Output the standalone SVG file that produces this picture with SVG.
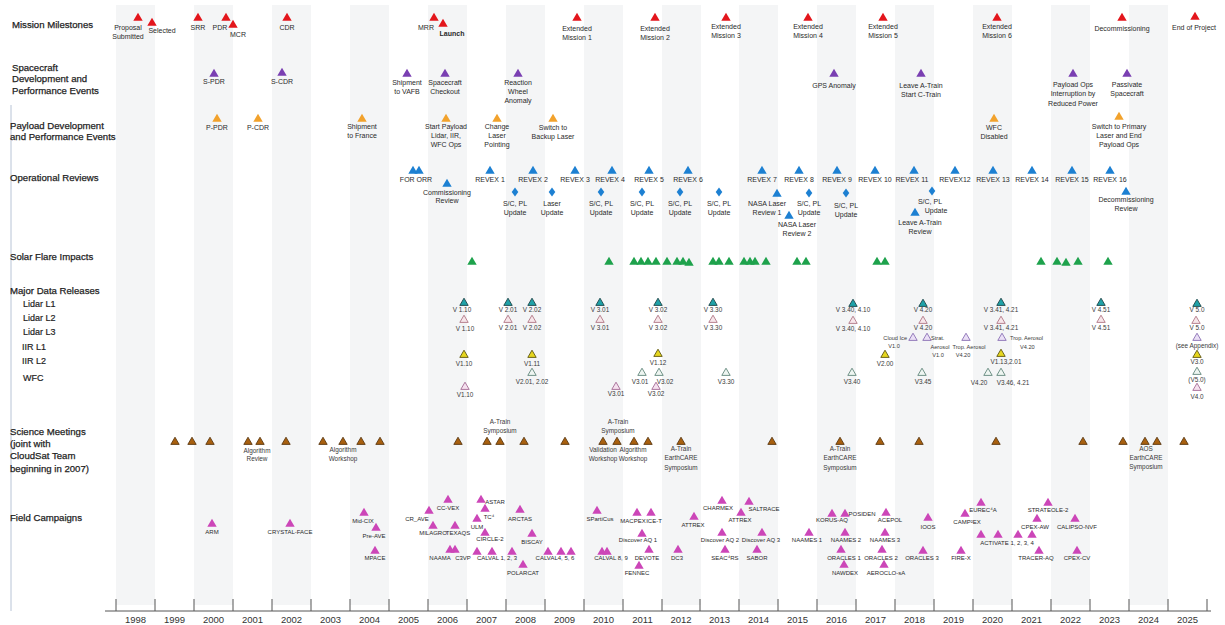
<svg xmlns="http://www.w3.org/2000/svg" width="1225" height="625" viewBox="0 0 1225 625">
<style>
text{font-family:"Liberation Sans",Arial,sans-serif}
.h{font-size:9.6px;fill:#1e1e1e;stroke:#1e1e1e;stroke-width:0.25}
.s{font-size:9px;fill:#1e1e1e;stroke:#1e1e1e;stroke-width:0.2}
.t{font-size:7px;fill:#2a2a2a;text-anchor:middle}
.tl{font-size:7px;fill:#2a2a2a}
.v{font-size:6.4px;fill:#3a3a3a;text-anchor:middle}
.vl{font-size:6.4px;fill:#3a3a3a}
.vr{font-size:6.4px;fill:#3a3a3a;text-anchor:end}
.sv{font-size:5.6px}
.f{font-size:6px;fill:#2a2a2a;text-anchor:middle}
.yr{font-size:9.5px;fill:#333;text-anchor:middle}
.band{fill:#f4f5f6}
.ms{fill:#e3161c}
.sc{fill:#7a3fb2}
.pl{fill:#f2a22c}
.op{fill:#1d80d2}
.sf{fill:#1ea24c}
.l1{fill:#1fa2a8;stroke:#1c4548;stroke-width:0.9}
.l2{fill:#f7e6ea;stroke:#b07684;stroke-width:0.9}
.l3{fill:#eadff6;stroke:#8a6fb4;stroke-width:0.9}
.ir{fill:#e6d61e;stroke:#5e5610;stroke-width:0.9}
.wf{fill:#eef5f1;stroke:#62877c;stroke-width:0.9}
.w2{fill:#f5e1ef;stroke:#a46a94;stroke-width:0.9}
.sm{fill:#a8600f;stroke:#4e2c06;stroke-width:0.8}
.fc{fill:#cc46b8}
.ax{stroke:#555;stroke-width:1;fill:none}
</style>
<defs>
<path id="T" d="M0,-4.3L4.7,3.8H-4.7Z"/>
<path id="t" d="M0,-3.8L4.2,3.4H-4.2Z"/>
<path id="D" d="M0,-4.6L3.3,0L0,4.6L-3.3,0Z"/>
</defs>
<rect width="1225" height="625" fill="#fff"/>
<g id="bands">
<rect class="band" x="116" y="5" width="39" height="600"/>
<rect class="band" x="194" y="5" width="39" height="600"/>
<rect class="band" x="272" y="5" width="39" height="600"/>
<rect class="band" x="350" y="5" width="39" height="600"/>
<rect class="band" x="428" y="5" width="39" height="600"/>
<rect class="band" x="506" y="5" width="39" height="600"/>
<rect class="band" x="584" y="5" width="39" height="600"/>
<rect class="band" x="662" y="5" width="39" height="600"/>
<rect class="band" x="739" y="5" width="39" height="600"/>
<rect class="band" x="817" y="5" width="39" height="600"/>
<rect class="band" x="895" y="5" width="39" height="600"/>
<rect class="band" x="973" y="5" width="39" height="600"/>
<rect class="band" x="1051" y="5" width="39" height="600"/>
<rect class="band" x="1129" y="5" width="39" height="600"/>
</g>
<line x1="11" y1="105" x2="11" y2="611" stroke="#b8c4d6" stroke-width="1"/>
<g id="row-labels">
<text class="h" x="12" y="28">Mission Milestones</text>
<text class="h" x="12" y="70.5">Spacecraft</text>
<text class="h" x="12" y="82">Development and</text>
<text class="h" x="12" y="93.5">Performance Events</text>
<text class="h" x="10" y="128.5">Payload Development</text>
<text class="h" x="10" y="140">and Performance Events</text>
<text class="h" x="10" y="180.5">Operational Reviews</text>
<text class="h" x="10" y="259.5">Solar Flare Impacts</text>
<text class="h" x="10" y="293.5">Major Data Releases</text>
<text class="s" x="23" y="307">Lidar L1</text>
<text class="s" x="23" y="320.5">Lidar L2</text>
<text class="s" x="23" y="335">Lidar L3</text>
<text class="s" x="22" y="349.5">IIR L1</text>
<text class="s" x="22" y="363.5">IIR L2</text>
<text class="s" x="23" y="380.5">WFC</text>
<text class="h" x="10" y="434.5">Science Meetings</text>
<text class="h" x="10" y="446.5">(joint with</text>
<text class="h" x="10" y="459">CloudSat Team</text>
<text class="h" x="10" y="471.5">beginning in 2007)</text>
<text class="h" x="10" y="520.5">Field Campaigns</text>
</g>
<g id="mission-milestones">
<use href="#T" class="ms" x="138" y="17"/><text class="t" x="128" y="29.5">Proposal</text><text class="t" x="128" y="38.5">Submitted</text>
<use href="#T" class="ms" x="152" y="22"/><text class="t" x="162" y="32.5">Selected</text>
<use href="#T" class="ms" x="198" y="17"/><text class="t" x="198" y="29.5">SRR</text>
<use href="#T" class="ms" x="226" y="17"/><text class="t" x="220" y="29.5">PDR</text>
<use href="#T" class="ms" x="233" y="24"/><text class="t" x="238" y="36.5">MCR</text>
<use href="#T" class="ms" x="287" y="17"/><text class="t" x="287" y="29.5">CDR</text>
<use href="#T" class="ms" x="434" y="17"/><text class="t" x="426" y="29.5">MRR</text>
<use href="#T" class="ms" x="443" y="23"/><text class="t" x="452" y="35.5" font-weight="bold" fill="#111">Launch</text>
<use href="#T" class="ms" x="577" y="17"/><text class="t" x="577" y="30.5">Extended</text><text class="t" x="577" y="39.5">Mission 1</text>
<use href="#T" class="ms" x="655" y="17"/><text class="t" x="655" y="30.5">Extended</text><text class="t" x="655" y="39.5">Mission 2</text>
<use href="#T" class="ms" x="726" y="17"/><text class="t" x="726" y="28.5">Extended</text><text class="t" x="726" y="37.5">Mission 3</text>
<use href="#T" class="ms" x="808" y="17"/><text class="t" x="808" y="28.5">Extended</text><text class="t" x="808" y="37.5">Mission 4</text>
<use href="#T" class="ms" x="883" y="17"/><text class="t" x="883" y="28.5">Extended</text><text class="t" x="883" y="37.5">Mission 5</text>
<use href="#T" class="ms" x="997" y="17"/><text class="t" x="997" y="28.5">Extended</text><text class="t" x="997" y="37.5">Mission 6</text>
<use href="#T" class="ms" x="1122" y="17"/><text class="t" x="1122" y="30.5">Decommissioning</text>
<use href="#T" class="ms" x="1195" y="16"/><text class="t" x="1194" y="29.5">End of Project</text>
</g>
<g id="spacecraft-events">
<use href="#T" class="sc" x="214" y="73"/><text class="t" x="214" y="83.5">S-PDR</text>
<use href="#T" class="sc" x="282" y="72"/><text class="t" x="282" y="83.5">S-CDR</text>
<use href="#T" class="sc" x="407" y="73"/><text class="t" x="407" y="84.5">Shipment</text><text class="t" x="407" y="93.5">to VAFB</text>
<use href="#T" class="sc" x="445" y="73"/><text class="t" x="445" y="84.5">Spacecraft</text><text class="t" x="445" y="93.5">Checkout</text>
<use href="#T" class="sc" x="518" y="73"/><text class="t" x="518" y="84.5">Reaction</text><text class="t" x="518" y="93.5">Wheel</text><text class="t" x="518" y="103">Anomaly</text>
<use href="#T" class="sc" x="834" y="73"/><text class="t" x="834" y="87.5">GPS Anomaly</text>
<use href="#T" class="sc" x="921" y="73"/><text class="t" x="921" y="87.5">Leave A-Train</text><text class="t" x="921" y="96.5">Start C-Train</text>
<use href="#T" class="sc" x="1073" y="73"/><text class="t" x="1073" y="86.5">Payload Ops</text><text class="t" x="1073" y="96">Interruption by</text><text class="t" x="1073" y="105.5">Reduced Power</text>
<use href="#T" class="sc" x="1127" y="73"/><text class="t" x="1127" y="86.5">Passivate</text><text class="t" x="1127" y="95.5">Spacecraft</text>
</g>
<g id="payload-events">
<use href="#T" class="pl" x="217" y="118"/><text class="t" x="217" y="129.5">P-PDR</text>
<use href="#T" class="pl" x="258" y="118"/><text class="t" x="258" y="129.5">P-CDR</text>
<use href="#T" class="pl" x="362" y="118"/><text class="t" x="362" y="128.5">Shipment</text><text class="t" x="362" y="137.5">to France</text>
<use href="#T" class="pl" x="446" y="118"/><text class="t" x="446" y="128.5">Start Payload</text><text class="t" x="446" y="137.5">Lidar, IIR,</text><text class="t" x="446" y="146.5">WFC Ops</text>
<use href="#T" class="pl" x="497" y="118"/><text class="t" x="497" y="128.5">Change</text><text class="t" x="497" y="137.5">Laser</text><text class="t" x="497" y="147">Pointing</text>
<use href="#T" class="pl" x="553" y="118"/><text class="t" x="553" y="129.5">Switch to</text><text class="t" x="553" y="139">Backup Laser</text>
<use href="#T" class="pl" x="994" y="118"/><text class="t" x="994" y="129.5">WFC</text><text class="t" x="994" y="139">Disabled</text>
<use href="#T" class="pl" x="1119" y="116"/><text class="t" x="1119" y="128.5">Switch to Primary</text><text class="t" x="1119" y="137.5">Laser and End</text><text class="t" x="1119" y="146.5">Payload Ops</text>
</g>
<g id="operational-reviews">
<use href="#T" class="op" x="413" y="170"/><use href="#T" class="op" x="419" y="170"/><text class="t" x="416" y="181.5">FOR ORR</text>
<use href="#T" class="op" x="447" y="183"/><text class="t" x="447" y="194.5">Commissioning</text><text class="t" x="447" y="203">Review</text>
<use href="#T" class="op" x="490" y="170"/><text class="t" x="490" y="181.5">REVEX 1</text>
<use href="#T" class="op" x="533" y="170"/><text class="t" x="533" y="181.5">REVEX 2</text>
<use href="#T" class="op" x="575" y="170"/><text class="t" x="575" y="181.5">REVEX 3</text>
<use href="#T" class="op" x="612" y="170"/><text class="t" x="610" y="181.5">REVEX 4</text>
<use href="#T" class="op" x="649" y="170"/><text class="t" x="649" y="181.5">REVEX 5</text>
<use href="#T" class="op" x="688" y="170"/><text class="t" x="688" y="181.5">REVEX 6</text>
<use href="#T" class="op" x="762" y="170"/><text class="t" x="762" y="181.5">REVEX 7</text>
<use href="#T" class="op" x="799" y="170"/><text class="t" x="799" y="181.5">REVEX 8</text>
<use href="#T" class="op" x="837" y="170"/><text class="t" x="837" y="181.5">REVEX 9</text>
<use href="#T" class="op" x="875" y="170"/><text class="t" x="875" y="181.5">REVEX 10</text>
<use href="#T" class="op" x="914" y="170"/><text class="t" x="912" y="181.5">REVEX 11</text>
<use href="#T" class="op" x="955" y="170"/><text class="t" x="955" y="181.5">REVEX12</text>
<use href="#T" class="op" x="993" y="170"/><text class="t" x="993" y="181.5">REVEX 13</text>
<use href="#T" class="op" x="1032" y="170"/><text class="t" x="1032" y="181.5">REVEX 14</text>
<use href="#T" class="op" x="1072" y="170"/><text class="t" x="1072" y="181.5">REVEX 15</text>
<use href="#T" class="op" x="1110" y="170"/><text class="t" x="1110" y="181.5">REVEX 16</text>
<use href="#D" class="op" x="515" y="192"/><text class="t" x="515" y="205.5">S/C, PL</text><text class="t" x="515" y="214.5">Update</text>
<use href="#D" class="op" x="552" y="192"/><text class="t" x="552" y="205.5">Laser</text><text class="t" x="552" y="214.5">Update</text>
<use href="#D" class="op" x="601" y="192"/><text class="t" x="601" y="205.5">S/C, PL</text><text class="t" x="601" y="214.5">Update</text>
<use href="#D" class="op" x="642" y="192"/><text class="t" x="642" y="205.5">S/C, PL</text><text class="t" x="642" y="214.5">Update</text>
<use href="#D" class="op" x="680" y="192"/><text class="t" x="680" y="205.5">S/C, PL</text><text class="t" x="680" y="214.5">Update</text>
<use href="#D" class="op" x="719" y="192"/><text class="t" x="719" y="205.5">S/C, PL</text><text class="t" x="719" y="214.5">Update</text>
<use href="#D" class="op" x="809" y="193"/><text class="t" x="809" y="205.5">S/C, PL</text><text class="t" x="809" y="215">Update</text>
<use href="#D" class="op" x="846" y="193"/><text class="t" x="846" y="207.5">S/C, PL</text><text class="t" x="846" y="217">Update</text>
<use href="#D" class="op" x="932" y="191"/><text class="t" x="930" y="203.5">S/C, PL</text><text class="t" x="936" y="212.5">Update</text>
<use href="#T" class="op" x="777" y="193"/><text class="t" x="767" y="205.5">NASA Laser</text><text class="t" x="767" y="214.5">Review 1</text>
<use href="#T" class="op" x="789" y="215"/><text class="t" x="797" y="226.5">NASA Laser</text><text class="t" x="797" y="235.5">Review 2</text>
<use href="#T" class="op" x="915" y="212"/><text class="t" x="920" y="224.5">Leave A-Train</text><text class="t" x="920" y="233.5">Review</text>
<use href="#T" class="op" x="1126" y="191"/><text class="t" x="1126" y="201.5">Decommissioning</text><text class="t" x="1126" y="210.5">Review</text>
</g>
<g id="solar-flares" class="sf">
<use href="#T" x="472" y="261"/><use href="#T" x="609" y="261"/><use href="#T" x="634" y="261"/><use href="#T" x="641" y="261"/><use href="#T" x="648" y="261"/><use href="#T" x="656" y="261"/><use href="#T" x="667" y="261"/><use href="#T" x="677" y="261"/><use href="#T" x="683" y="261"/><use href="#T" x="689" y="262"/><use href="#T" x="713" y="261"/><use href="#T" x="719" y="261"/><use href="#T" x="729" y="261"/><use href="#T" x="744" y="261"/><use href="#T" x="750" y="261"/><use href="#T" x="755" y="261"/><use href="#T" x="766" y="261"/><use href="#T" x="797" y="261"/><use href="#T" x="806" y="261"/><use href="#T" x="877" y="261"/><use href="#T" x="885" y="261"/><use href="#T" x="1041" y="261"/><use href="#T" x="1057" y="261"/><use href="#T" x="1066" y="262"/><use href="#T" x="1078" y="261"/><use href="#T" x="1108" y="261"/>
</g>
<g id="data-releases">
<g id="lidar-l1">
<use href="#t" class="l1" x="464" y="302"/><text class="v" x="462" y="311.5">V 1.10</text>
<use href="#t" class="l1" x="508" y="302"/><text class="v" x="508" y="311.5">V 2.01</text>
<use href="#t" class="l1" x="532" y="302"/><text class="v" x="532" y="311.5">V 2.02</text>
<use href="#t" class="l1" x="600" y="302"/><text class="v" x="600" y="311.5">V 3.01</text>
<use href="#t" class="l1" x="658" y="302"/><text class="v" x="658" y="311.5">V 3.02</text>
<use href="#t" class="l1" x="713" y="302"/><text class="v" x="713" y="311.5">V 3.30</text>
<use href="#t" class="l1" x="853" y="303"/><text class="v" x="853" y="311.5">V 3.40, 4.10</text>
<use href="#t" class="l1" x="923" y="303"/><text class="v" x="923" y="311.5">V 4.20</text>
<use href="#t" class="l1" x="1001" y="302"/><text class="v" x="1001" y="311.5">V 3.41, 4.21</text>
<use href="#t" class="l1" x="1101" y="302"/><text class="v" x="1101" y="311.5">V 4.51</text>
<use href="#t" class="l1" x="1197" y="303"/><text class="v" x="1197" y="312">V 5.0</text>
</g>
<g id="lidar-l2">
<use href="#t" class="l2" x="464" y="319"/><text class="v" x="465" y="330.5">V 1.10</text>
<use href="#t" class="l2" x="508" y="319"/><text class="v" x="508" y="330">V 2.01</text>
<use href="#t" class="l2" x="532" y="319"/><text class="v" x="532" y="330">V 2.02</text>
<use href="#t" class="l2" x="600" y="319"/><text class="v" x="600" y="330">V 3.01</text>
<use href="#t" class="l2" x="658" y="319"/><text class="v" x="658" y="329.5">V 3.02</text>
<use href="#t" class="l2" x="713" y="319"/><text class="v" x="713" y="329.5">V 3.30</text>
<use href="#t" class="l2" x="853" y="320"/><text class="v" x="853" y="330.5">V 3.40, 4.10</text>
<use href="#t" class="l2" x="923" y="320"/><text class="v" x="923" y="329.5">V 4.20</text>
<use href="#t" class="l2" x="1001" y="320"/><text class="v" x="1001" y="330">V 3.41, 4.21</text>
<use href="#t" class="l2" x="1101" y="319"/><text class="v" x="1101" y="329.5">V 4.51</text>
<use href="#t" class="l2" x="1196" y="320"/><text class="v" x="1197" y="329.5">V 5.0</text>
</g>
<g id="lidar-l3">
<use href="#t" class="l3" x="913" y="337"/><text class="vr sv" x="907" y="339.5">Cloud Ice</text><text class="v sv" x="894" y="347.5">V1.0</text>
<use href="#t" class="l3" x="927" y="337"/><text class="vl sv" x="931" y="339.5">Strat.</text><text class="v sv" x="940" y="348.5">Aerosol</text><text class="v sv" x="938" y="357">V1.0</text>
<use href="#t" class="l3" x="966" y="337"/><text class="v sv" x="969" y="348.5">Trop. Aerosol</text><text class="v sv" x="963" y="357">V4.20</text>
<use href="#t" class="l3" x="1002" y="337"/><text class="vl sv" x="1010" y="339.5">Trop. Aerosol</text><text class="vl sv" x="1020" y="348.5">V4.20</text>
<use href="#t" class="l3" x="1197" y="337"/><text class="v" x="1197" y="347.5">(see Appendix)</text>
</g>
<g id="iir">
<use href="#t" class="ir" x="464" y="354"/><text class="v" x="464" y="365.5">V1.10</text>
<use href="#t" class="ir" x="532" y="354"/><text class="v" x="532" y="365.5">V1.11</text>
<use href="#t" class="ir" x="658" y="353"/><text class="v" x="658" y="364.5">V1.12</text>
<use href="#t" class="ir" x="885" y="354"/><text class="v" x="885" y="365.5">V2.00</text>
<use href="#t" class="ir" x="1001" y="353"/><text class="v" x="1006" y="363.5">V1.13,2.01</text>
<use href="#t" class="ir" x="1197" y="354"/><text class="v" x="1197" y="363.5">V3.0</text>
</g>
<g id="wfc">
<use href="#t" class="wf" x="532" y="372"/><text class="v" x="532" y="383.5">V2.01, 2.02</text>
<use href="#t" class="wf" x="642" y="372"/><text class="v" x="640" y="383.5">V3.01</text>
<use href="#t" class="wf" x="659" y="372"/><text class="v" x="665" y="383.5">V3.02</text>
<use href="#t" class="wf" x="726" y="372"/><text class="v" x="726" y="383.5">V3.30</text>
<use href="#t" class="wf" x="852" y="372"/><text class="v" x="852" y="383.5">V3.40</text>
<use href="#t" class="wf" x="922" y="372"/><text class="v" x="923" y="383.5">V3.45</text>
<use href="#t" class="wf" x="988" y="372"/><text class="v" x="979" y="384.5">V4.20</text>
<use href="#t" class="wf" x="1001" y="372"/><text class="v" x="1013" y="384.5">V3.46, 4.21</text>
<use href="#t" class="wf" x="1197" y="371"/><text class="v" x="1197" y="381.5">(V5.0)</text>
</g>
<g id="other-release">
<use href="#t" class="w2" x="465" y="386"/><text class="v" x="465" y="396.5">V1.10</text>
<use href="#t" class="w2" x="616" y="386"/><text class="v" x="616" y="395.5">V3.01</text>
<use href="#t" class="w2" x="656" y="386"/><text class="v" x="656" y="395.5">V3.02</text>
<use href="#t" class="w2" x="1197" y="387"/><text class="v" x="1197" y="398.5">V4.0</text>
</g>
</g>
<g id="science-meetings">
<g class="sm">
<use href="#t" x="175" y="441"/><use href="#t" x="192" y="441"/><use href="#t" x="210" y="441"/><use href="#t" x="248" y="441"/><use href="#t" x="260" y="441"/><use href="#t" x="286" y="441"/><use href="#t" x="323" y="441"/><use href="#t" x="343" y="441"/><use href="#t" x="361" y="441"/><use href="#t" x="380" y="441"/><use href="#t" x="458" y="441"/><use href="#t" x="487" y="441"/><use href="#t" x="500" y="441"/><use href="#t" x="524" y="441"/><use href="#t" x="565" y="441"/><use href="#t" x="603" y="441"/><use href="#t" x="617" y="441"/><use href="#t" x="634" y="441"/><use href="#t" x="648" y="441"/><use href="#t" x="681" y="441"/><use href="#t" x="772" y="441"/><use href="#t" x="840" y="441"/><use href="#t" x="880" y="441"/><use href="#t" x="919" y="441"/><use href="#t" x="996" y="441"/><use href="#t" x="1083" y="441"/><use href="#t" x="1123" y="441"/><use href="#t" x="1145" y="441"/><use href="#t" x="1157" y="441"/><use href="#t" x="1184" y="441"/>
</g>
<text class="v" x="257" y="452.5">Algorithm</text><text class="v" x="257" y="461">Review</text>
<text class="v" x="343" y="451.5">Algorithm</text><text class="v" x="343" y="460.5">Workshop</text>
<text class="v" x="500" y="423.5">A-Train</text><text class="v" x="500" y="432.5">Symposium</text>
<text class="v" x="603" y="451.5">Validation</text><text class="v" x="603" y="460.5">Workshop</text>
<text class="v" x="618" y="423.5">A-Train</text><text class="v" x="618" y="432.5">Symposium</text>
<text class="v" x="633" y="451.5">Algorithm</text><text class="v" x="633" y="460.5">Workshop</text>
<text class="v" x="681" y="450.5">A-Train</text><text class="v" x="681" y="460">EarthCARE</text><text class="v" x="681" y="469.5">Symposium</text>
<text class="v" x="840" y="450.5">A-Train</text><text class="v" x="840" y="460">EarthCARE</text><text class="v" x="840" y="469.5">Symposium</text>
<text class="v" x="1146" y="450.5">AOS</text><text class="v" x="1146" y="460">EarthCARE</text><text class="v" x="1146" y="469">Symposium</text>
</g>
<g id="field-campaigns">
<g class="fc">
<use href="#T" x="212" y="523"/><use href="#T" x="290" y="523"/><use href="#T" x="364" y="512"/><use href="#T" x="376" y="527"/><use href="#T" x="375" y="550"/><use href="#T" x="448" y="499"/><use href="#T" x="429" y="510"/><use href="#T" x="433" y="525"/><use href="#T" x="455" y="525"/><use href="#T" x="450" y="549"/><use href="#T" x="455" y="549"/><use href="#T" x="481" y="499"/><use href="#T" x="485" y="508"/><use href="#T" x="477" y="518"/><use href="#T" x="485" y="532"/><use href="#T" x="520" y="509"/><use href="#T" x="532" y="533"/><use href="#T" x="477" y="551"/><use href="#T" x="492" y="551"/><use href="#T" x="512" y="551"/><use href="#T" x="523" y="564"/><use href="#T" x="548" y="551"/><use href="#T" x="561" y="551"/><use href="#T" x="571" y="551"/><use href="#T" x="597" y="510"/><use href="#T" x="602" y="551"/><use href="#T" x="607" y="551"/><use href="#T" x="637" y="512"/><use href="#T" x="651" y="512"/><use href="#T" x="642" y="533"/><use href="#T" x="649" y="549"/><use href="#T" x="639" y="565"/><use href="#T" x="678" y="549"/><use href="#T" x="694" y="516"/><use href="#T" x="722" y="500"/><use href="#T" x="749" y="501"/><use href="#T" x="741" y="512"/><use href="#T" x="722" y="532"/><use href="#T" x="762" y="532"/><use href="#T" x="725" y="549"/><use href="#T" x="757" y="549"/><use href="#T" x="809" y="532"/><use href="#T" x="832" y="513"/><use href="#T" x="845" y="513"/><use href="#T" x="886" y="512"/><use href="#T" x="845" y="532"/><use href="#T" x="885" y="532"/><use href="#T" x="841" y="549"/><use href="#T" x="882" y="549"/><use href="#T" x="844" y="564"/><use href="#T" x="884" y="564"/><use href="#T" x="928" y="517"/><use href="#T" x="923" y="550"/><use href="#T" x="981" y="502"/><use href="#T" x="965" y="513"/><use href="#T" x="961" y="550"/><use href="#T" x="981" y="534"/><use href="#T" x="998" y="534"/><use href="#T" x="1018" y="534"/><use href="#T" x="1032" y="534"/><use href="#T" x="1048" y="502"/><use href="#T" x="1037" y="518"/><use href="#T" x="1075" y="518"/><use href="#T" x="1039" y="550"/><use href="#T" x="1077" y="550"/>
</g>
<text class="f" x="212" y="534">ARM</text>
<text class="f" x="290" y="534">CRYSTAL-FACE</text>
<text class="f" x="363" y="523">Mid-CIX</text>
<text class="f" x="374" y="537.5">Pre-AVE</text>
<text class="f" x="375" y="560">MPACE</text>
<text class="f" x="448" y="509.5">CC-VEX</text>
<text class="f" x="417" y="521">CR_AVE</text>
<text class="f" x="433" y="535">MILAGRO</text>
<text class="f" x="458" y="535">TEXAQS</text>
<text class="f" x="440" y="559.5">NAAMA</text>
<text class="f" x="463" y="559.5">C3VP</text>
<text class="f" x="495" y="504">ASTAR</text>
<text class="f" x="489" y="519">TC⁴</text>
<text class="f" x="477" y="528.5">ULM</text>
<text class="f" x="490" y="541">CIRCLE-2</text>
<text class="f" x="520" y="520.5">ARCTAS</text>
<text class="f" x="532" y="543.5">BISCAY</text>
<text class="f" x="497" y="559.5">CALVAL 1, 2, 3</text>
<text class="f" x="523" y="575">POLARCAT</text>
<text class="f" x="555" y="559.5">CALVAL4, 5, 6</text>
<text class="f" x="600" y="520.5">SPartiCus</text>
<text class="f" x="611" y="559.5">CALVAL 8, 9</text>
<text class="f" x="633" y="522.5">MACPEX</text>
<text class="f" x="654" y="522.5">ICE-T</text>
<text class="f" x="638" y="541.5">Discover AQ 1</text>
<text class="f" x="647" y="559.5">DEVOTE</text>
<text class="f" x="637" y="575">FENNEC</text>
<text class="f" x="677" y="559.5">DC3</text>
<text class="f" x="693" y="526.5">ATTREX</text>
<text class="f" x="718" y="509.5">CHARMEX</text>
<text class="f" x="764" y="510.5">SALTRACE</text>
<text class="f" x="740" y="521.5">ATTREX</text>
<text class="f" x="720" y="541.5">Discover AQ 2</text>
<text class="f" x="761" y="541.5">Discover AQ 3</text>
<text class="f" x="725" y="559.5">SEAC⁴RS</text>
<text class="f" x="757" y="559.5">SABOR</text>
<text class="f" x="807" y="541.5">NAAMES 1</text>
<text class="f" x="832" y="521.5">KORUS-AQ</text>
<text class="f" x="862" y="515.5">POSIDEN</text>
<text class="f" x="890" y="521.5">ACEPOL</text>
<text class="f" x="846" y="541.5">NAAMES 2</text>
<text class="f" x="885" y="541.5">NAAMES 3</text>
<text class="f" x="844" y="559.5">ORACLES 1</text>
<text class="f" x="881" y="559.5">ORACLES 2</text>
<text class="f" x="845" y="575">NAWDEX</text>
<text class="f" x="886" y="575">AEROCLO-sA</text>
<text class="f" x="928" y="528.5">IOOS</text>
<text class="f" x="922" y="559.5">ORACLES 3</text>
<text class="f" x="983" y="511.5">EUREC⁴A</text>
<text class="f" x="967" y="523.5">CAMP²EX</text>
<text class="f" x="961" y="559.5">FIRE-X</text>
<text class="f" x="1007" y="544.5">ACTIVATE 1, 2, 3, 4</text>
<text class="f" x="1048" y="511.5">STRATEOLE-2</text>
<text class="f" x="1035" y="528.5">CPEX-AW</text>
<text class="f" x="1077" y="528.5">CALIPSO-NVF</text>
<text class="f" x="1036" y="559.5">TRACER-AQ</text>
<text class="f" x="1077" y="559.5">CPEX-CV</text>
</g>
<g id="axis">
<line class="ax" x1="105" y1="611" x2="1211" y2="611"/>
<path class="ax" d="M116,599V611M155,599V611M194,599V611M233,599V611M272,599V611M311,599V611M350,599V611M389,599V611M428,599V611M467,599V611M506,599V611M545,599V611M584,599V611M623,599V611M662,599V611M700,599V611M739,599V611M778,599V611M817,599V611M856,599V611M895,599V611M934,599V611M973,599V611M1012,599V611M1051,599V611M1090,599V611M1129,599V611M1168,599V611M1207,599V611"/>
<text class="yr" x="135.5" y="623">1998</text><text class="yr" x="174.5" y="623">1999</text><text class="yr" x="213.5" y="623">2000</text><text class="yr" x="252.5" y="623">2001</text><text class="yr" x="291.5" y="623">2002</text><text class="yr" x="330.5" y="623">2003</text><text class="yr" x="369.5" y="623">2004</text><text class="yr" x="408.5" y="623">2005</text><text class="yr" x="447.5" y="623">2006</text><text class="yr" x="486.5" y="623">2007</text><text class="yr" x="525.5" y="623">2008</text><text class="yr" x="564.5" y="623">2009</text><text class="yr" x="603.5" y="623">2010</text><text class="yr" x="642.5" y="623">2011</text><text class="yr" x="681" y="623">2012</text><text class="yr" x="719.5" y="623">2013</text><text class="yr" x="758.5" y="623">2014</text><text class="yr" x="797.5" y="623">2015</text><text class="yr" x="836.5" y="623">2016</text><text class="yr" x="875.5" y="623">2017</text><text class="yr" x="914.5" y="623">2018</text><text class="yr" x="953.5" y="623">2019</text><text class="yr" x="992.5" y="623">2020</text><text class="yr" x="1031.5" y="623">2021</text><text class="yr" x="1070.5" y="623">2022</text><text class="yr" x="1109.5" y="623">2023</text><text class="yr" x="1148.5" y="623">2024</text><text class="yr" x="1187.5" y="623">2025</text>
</g>
</svg>
